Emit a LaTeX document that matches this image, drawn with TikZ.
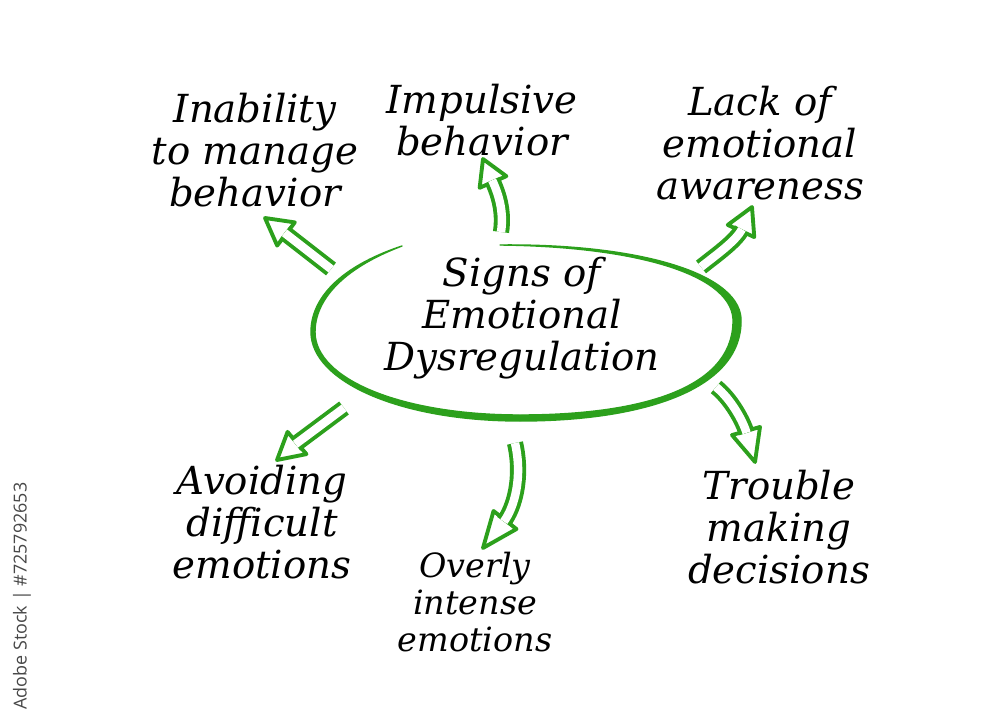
\documentclass[tikz,border=0pt]{standalone}
\usepackage{fontspec}
\setmainfont{DejaVu Serif}
\newfontfamily\stockfont{Open Sans}
\usetikzlibrary{calc}
\definecolor{arrowgreen}{RGB}{44,160,28}
\newcommand\greenhead[2]{\draw[head] (#2) -- ($(#1)!8.3pt!90:(#2)$) -- ($(#1)!8.3pt!-90:(#2)$) -- cycle;}
\begin{document}
\begin{tikzpicture}[x=0.02cm,y=-0.02cm,
  lbl/.style={font=\fontsize{22}{24}\selectfont\itshape, align=center, text=black, inner sep=0pt},
  small/.style={font=\fontsize{19}{21}\selectfont\itshape},
  shaft/.style={draw=arrowgreen, line width=2.2pt, double=white, double distance=4.8pt, shorten >=-1.1pt},
  head/.style={draw=arrowgreen, fill=white, line width=2.2pt, line join=round},
  ring/.style={fill=arrowgreen, draw=arrowgreen, line width=0.8pt, line join=round}]
\fill[white] (0,0) rectangle (1000,723);
\path[use as bounding box] (0,0) rectangle (1000,723);

% labels
\node[lbl] (inab) at (255,150) {Inability\\to manage\\behavior};
\node[lbl] (impul) at (482,120) {Impulsive\\behavior};
\node[lbl] (lack) at (760,143) {Lack of\\emotional\\awareness};
\node[lbl] (title) at (522,318) {Signs of\\Emotional\\Dysregulation};
\node[lbl] (avoid) at (262,522) {Avoiding\\difficult\\emotions};
\node[lbl,small] (overly) at (475,602) {Overly\\intense\\emotions};
\node[lbl] (trouble) at (779,527) {Trouble\\making\\decisions};
\node[rotate=90, text=black!72, font=\stockfont\fontsize{10.2}{12}\selectfont, inner sep=0pt] (stock) at (22,596) {Adobe Stock | \#725792653};

% hand-drawn tapered ring around the title
\path[ring] (500,245)
  .. controls (640,243.5) and (744.5,274) .. (741,323)
  .. controls (739,391) and (640,421) .. (520,421)
  .. controls (399,421) and (311,381) .. (311,332)
  .. controls (311,299) and (339,267) .. (402,246)
  .. controls (341,269) and (315,301) .. (315,332)
  .. controls (315,379) and (401,415) .. (520,415)
  .. controls (640,415) and (731,389) .. (733,323)
  .. controls (736,276) and (640,246.5) .. (500,245) -- cycle;

% arrows
\coordinate (t1) at (331,269); \coordinate (b1) at (286,234); \coordinate (p1) at (265,218);
\coordinate (t2) at (501,232); \coordinate (b2) at (493,182); \coordinate (p2) at (483,159);
\coordinate (t3) at (701,267); \coordinate (b3) at (741,231); \coordinate (p3) at (752,207);
\coordinate (t4) at (344,408); \coordinate (b4) at (297,443); \coordinate (p4) at (277,460);
\coordinate (t5) at (515,443); \coordinate (b5) at (505,520); \coordinate (p5) at (483,548);
\coordinate (t6) at (716,387); \coordinate (b6) at (746,431); \coordinate (p6) at (755,462);

\greenhead{b1}{p1} \draw[shaft] (t1) -- (b1);
\greenhead{b2}{p2} \draw[shaft] (t2) .. controls (504,212) and (499,195) .. (b2);
\greenhead{b3}{p3} \draw[shaft] (t3) .. controls (716,255) and (736,241) .. (b3);
\greenhead{b4}{p4} \draw[shaft] (t4) -- (b4);
\greenhead{b5}{p5} \draw[shaft] (t5) .. controls (523,478) and (514,508) .. (b5);
\greenhead{b6}{p6} \draw[shaft] (t6) .. controls (731,399) and (743,421) .. (b6);
\end{tikzpicture}
\end{document}
